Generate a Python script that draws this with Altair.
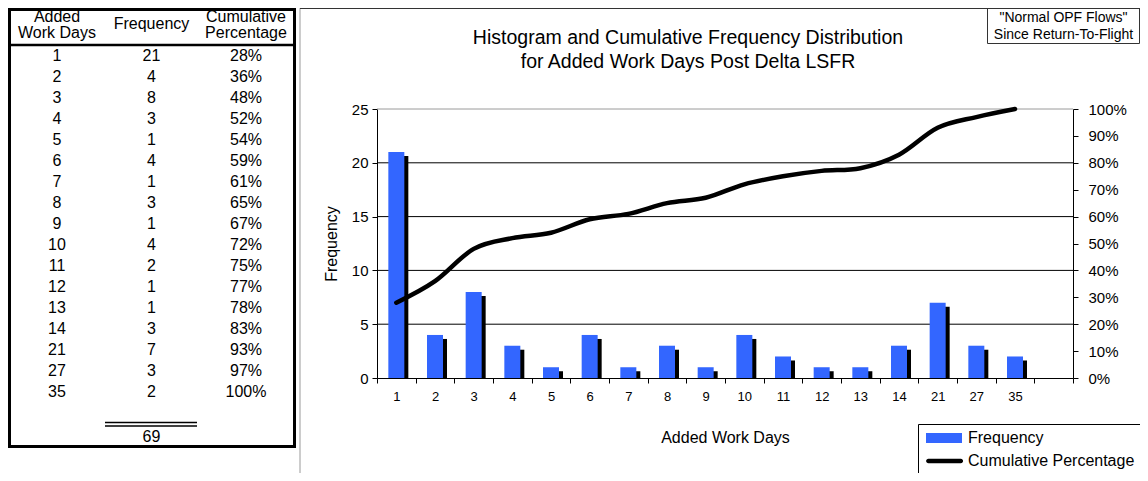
import altair as alt
import pandas as pd

# ---------------- data ----------------
days = ["1", "2", "3", "4", "5", "6", "7", "8", "9", "10", "11", "12", "13", "14", "21", "27", "35"]
freq = [21, 4, 8, 3, 1, 4, 1, 3, 1, 4, 2, 1, 1, 3, 7, 3, 2]
cum_pct = [28, 36, 48, 52, 54, 59, 61, 65, 67, 72, 75, 77, 78, 83, 93, 97, 100]
x_slots = days + [""]
freq_ticks = [0, 5, 10, 15, 20, 25]
pct_ticks = [0, 10, 20, 30, 40, 50, 60, 70, 80, 90, 100]
series_names = ["Frequency", "Cumulative Percentage"]
table_cols = ["days", "freq", "cum"]
table_headers = ["Added\nWork Days", "Frequency", "Cumulative\nPercentage"]
title_text = "Histogram and Cumulative Frequency Distribution\nfor Added Work Days Post Delta LSFR"
note_text = '"Normal OPF Flows"\nSince Return-To-Flight'
x_title = "Added Work Days"
y_title = "Frequency"

FONT = "Liberation Sans"
BLUE = "#3366FF"
W, H = 696, 269
PAD = {"left": 369, "top": 101, "right": 67, "bottom": 95}

df = pd.DataFrame({
    "day": days,
    "freq": freq,
    "cum": [v / 100 for v in cum_pct],
    "row": list(range(len(days))),
})

rows = []
for i in range(len(days)):
    rows.append({"row": i, "col": "days", "label": days[i]})
    rows.append({"row": i, "col": "freq", "label": str(freq[i])})
    rows.append({"row": i, "col": "cum", "label": f"{cum_pct[i]}%"})
table_long = pd.DataFrame(rows)
header_df = pd.DataFrame({"col": table_cols, "text": table_headers, "row": [-1.86, -1.52, -1.86]})
grid_df = pd.DataFrame({"tick": freq_ticks[1:]})
one = pd.DataFrame({"k": [0]})

# ---------------- table (left) ----------------
def tx():
    return alt.Scale(type="point", domain=table_cols, range=[-320, -131], padding=0)


def ty():
    return alt.Scale(type="linear", domain=[0, 16], range=[-53, 283], nice=False, zero=False)


box = alt.Chart(one).mark_rect(fillOpacity=0, stroke="black", strokeWidth=3).encode(
    x=alt.value(-367.5), x2=alt.value(-82.5), y=alt.value(-99.5), y2=alt.value(337.5))

rule_df = pd.DataFrame({
    "row": [-0.52, 17.45, 17.62],
    "x0": [-369, -272, -272],
    "x1": [-81, -180, -180],
    "w": [2.5, 1.5, 1.5],
})
rules = alt.Chart(rule_df).mark_rule(color="black").encode(
    x=alt.X("x0:Q", scale=alt.Scale(domain=[0, W], range=[0, W], nice=False, zero=False), axis=None),
    x2="x1:Q",
    y=alt.Y("row:Q", scale=ty(), axis=None),
    strokeWidth=alt.StrokeWidth("w:Q", scale=None, legend=None))

table_text = alt.Chart(table_long).mark_text(font=FONT, fontSize=16, baseline="middle", color="black").encode(
    x=alt.X("col:N", scale=tx(), axis=None),
    y=alt.Y("row:Q", scale=ty(), axis=None),
    text="label:N")
header = alt.Chart(header_df).mark_text(font=FONT, fontSize=16, baseline="middle", lineBreak="\n",
                                        lineHeight=16.5, color="black").encode(
    x=alt.X("col:N", scale=tx(), axis=None),
    y=alt.Y("row:Q", scale=ty(), axis=None),
    text="text:N")
total = alt.Chart(df).transform_aggregate(total="sum(freq)").transform_calculate(
    col="'freq'", row="18.14").mark_text(font=FONT, fontSize=16, baseline="middle", color="black").encode(
    x=alt.X("col:N", scale=tx(), axis=None),
    y=alt.Y("row:Q", scale=ty(), axis=None),
    text="total:Q")

# ---------------- main plot ----------------
def xs():
    return alt.Scale(domain=x_slots, paddingInner=0, paddingOuter=0)


def ys():
    return alt.Scale(domain=[0, 25], nice=False)


x_axis = alt.Axis(title=x_title, labelAngle=0, labelFont=FONT, labelFontSize=13, labelColor="black",
                  labelPadding=7, tickBand="extent", tickSize=5, tickColor="black", domainColor="black",
                  titleFont=FONT, titleFontSize=16, titleFontWeight="normal", titleColor="black",
                  titlePadding=26, grid=False)
y_axis = alt.Axis(title=y_title, orient="left", values=freq_ticks, grid=False,
                  tickSize=5, tickColor="black", domainColor="black",
                  labelFont=FONT, labelFontSize=15, labelColor="black", labelPadding=4,
                  titleFont=FONT, titleFontSize=16, titleFontWeight="normal", titleColor="black",
                  titlePadding=12)
p_axis = alt.Axis(orient="right", values=[v / 100 for v in pct_ticks], format=".0%", grid=False,
                  tickSize=5, tickColor="black", domainColor="black",
                  labelFont=FONT, labelFontSize=15, labelColor="black", labelPadding=10, title=None)

grid = alt.Chart(grid_df).mark_rule(strokeWidth=1).encode(
    y=alt.Y("tick:Q", scale=ys(), axis=None),
    color=alt.condition(alt.datum.tick >= 25, alt.value("#9a9a9a"), alt.value("black")))

shadow = alt.Chart(df).mark_bar(color="black", width=16, xOffset=4, yOffset=4, clip=True).encode(
    x=alt.X("day:N", scale=xs(), axis=None),
    y=alt.Y("freq:Q", scale=ys(), axis=None))
bars = alt.Chart(df).mark_bar(color=BLUE, width=16).encode(
    x=alt.X("day:N", scale=xs(), axis=x_axis),
    y=alt.Y("freq:Q", scale=ys(), axis=y_axis))

rect_path = "M-1,-0.833H5V0.833H-1Z"
line_path = ("M-0.6,-0.375H4.8A0.375,0.375,0,0,1,4.8,0.375H-0.6"
             "A0.375,0.375,0,0,1,-0.6,-0.375Z")
LEG = alt.Legend(orient="none", legendX=541, legendY=315, title=None, labelFont=FONT, labelFontSize=16,
                 labelColor="black", symbolSize=144, labelOffset=28, rowPadding=7, padding=6,
                 strokeColor="black", fillColor="white", symbolStrokeWidth=0, symbolOpacity=1,
                 labelLimit=400)
legend_layer = alt.Chart(pd.DataFrame({"series": series_names})).mark_point(
    filled=True, opacity=0, size=0).encode(
    color=alt.Color("series:N", scale=alt.Scale(domain=series_names, range=[BLUE, "black"]), legend=LEG),
    shape=alt.Shape("series:N", scale=alt.Scale(domain=series_names, range=[rect_path, line_path]), legend=LEG))

line = alt.Chart(df).mark_line(color="black", strokeWidth=4.5, interpolate="cardinal",
                               strokeCap="round", strokeJoin="round").encode(
    x=alt.X("day:N", scale=xs(), axis=None),
    y=alt.Y("cum:Q", scale=alt.Scale(domain=[0, 1], nice=False), axis=p_axis),
    order=alt.Order("row:Q"))

# ---------------- decorations ----------------
frame_v = alt.Chart(one).mark_rule(color="#9a9a9a", strokeWidth=1).encode(
    x=alt.value(-77), y=alt.value(-101), y2=alt.value(364))
frame_h = alt.Chart(one).mark_rule(color="#333333", strokeWidth=1).encode(
    x=alt.value(-77), x2=alt.value(763), y=alt.value(-100.5))
note_box = alt.Chart(one).mark_rect(fillOpacity=0, stroke="#333333", strokeWidth=1).encode(
    x=alt.value(610.5), x2=alt.value(762.5), y=alt.value(-100.5), y2=alt.value(-65.5))
note = alt.Chart(one).mark_text(font=FONT, fontSize=14, lineBreak="\n", lineHeight=16.5,
                                baseline="middle", align="center", color="black").encode(
    x=alt.value(686.5), y=alt.value(-91), text=alt.value(note_text))
title = alt.Chart(one).mark_text(font=FONT, fontSize=19.5, lineBreak="\n", lineHeight=24,
                                 baseline="middle", align="center", color="black").encode(
    x=alt.value(311), y=alt.value(-71), text=alt.value(title_text))

chart = alt.layer(
    frame_v, frame_h, box, rules, table_text, header, total,
    grid, shadow, bars, line, legend_layer, note_box, note, title
).resolve_scale(
    x="independent", y="independent"
).properties(
    width=W, height=H, padding=PAD,
    autosize=alt.AutoSizeParams(type="none"),
).configure_view(stroke=None)

chart.save("out.html", embed_options={"renderer": "svg", "actions": False})
